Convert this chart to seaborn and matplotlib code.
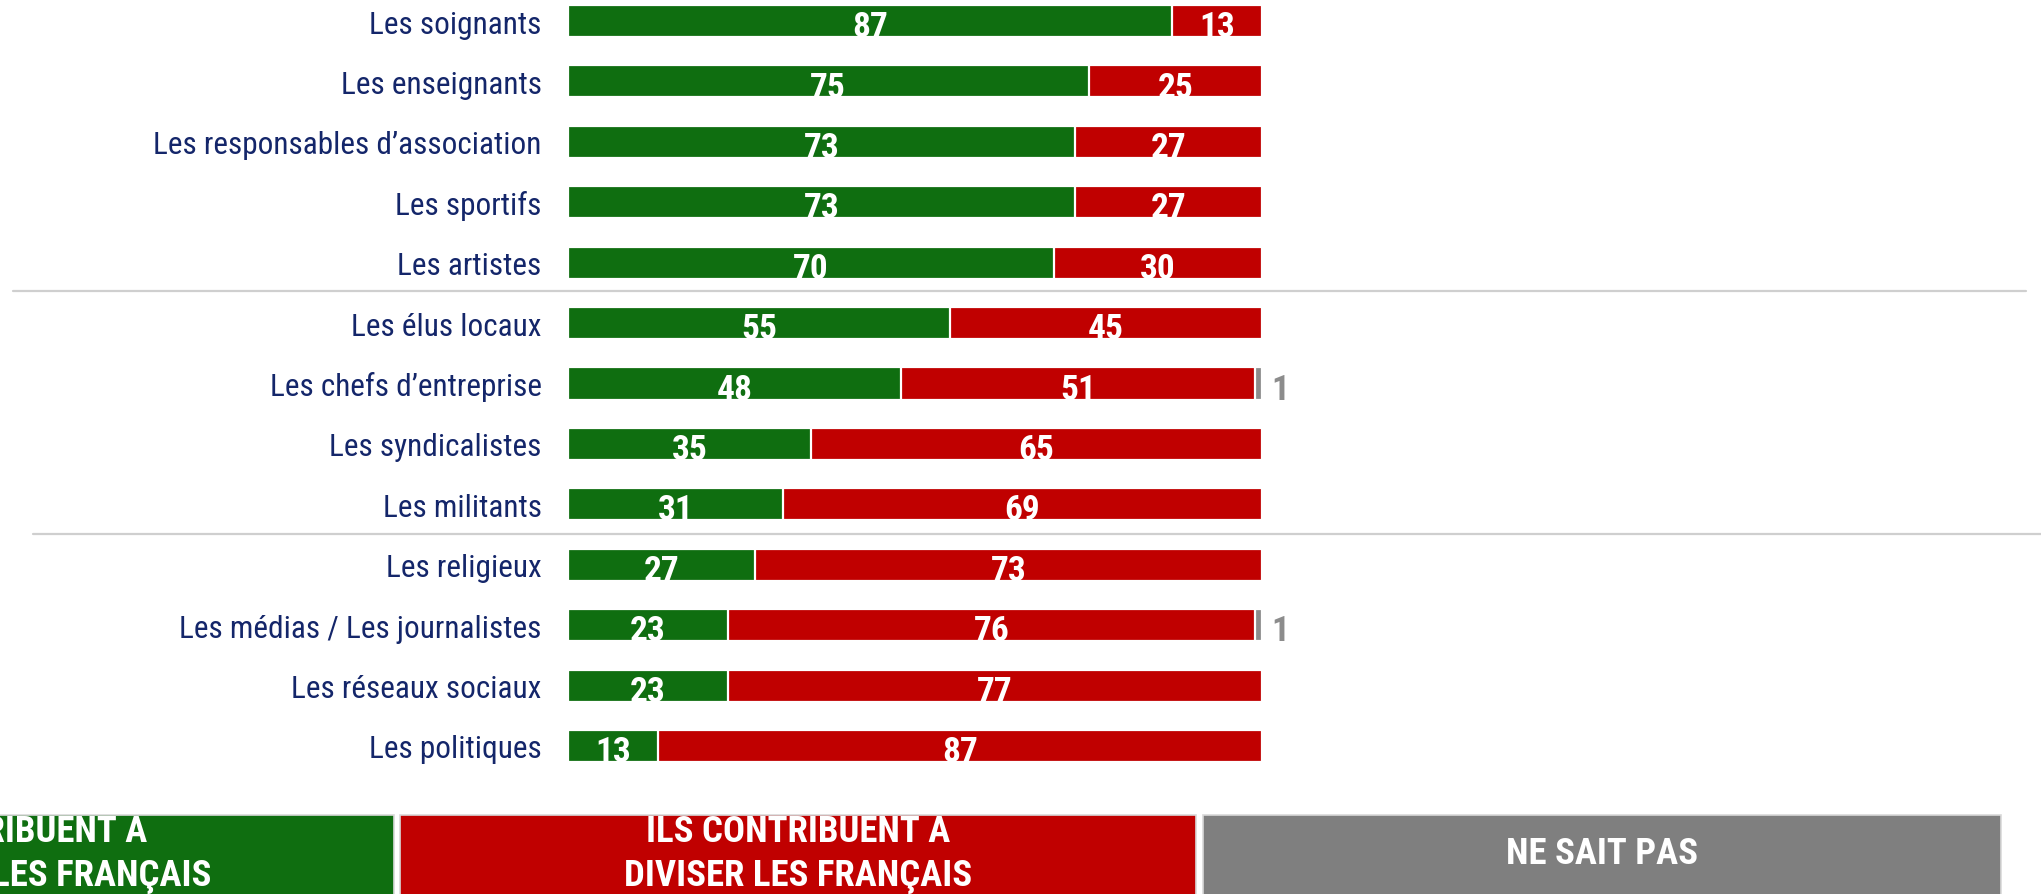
import matplotlib
matplotlib.use("Agg")
import matplotlib.pyplot as plt
import seaborn as sns
import pandas as pd
from matplotlib import font_manager as fm
from matplotlib.patches import Rectangle
from matplotlib.lines import Line2D

# ---- data ----
categories = [
    "Les soignants",
    "Les enseignants",
    "Les responsables d\u2019association",
    "Les sportifs",
    "Les artistes",
    "Les \u00e9lus locaux",
    "Les chefs d\u2019entreprise",
    "Les syndicalistes",
    "Les militants",
    "Les religieux",
    "Les m\u00e9dias / Les journalistes",
    "Les r\u00e9seaux sociaux",
    "Les politiques",
]
rassembler = [87, 75, 73, 73, 70, 55, 48, 35, 31, 27, 23, 23, 13]
diviser = [13, 25, 27, 27, 30, 45, 51, 65, 69, 73, 76, 77, 87]
ne_sait_pas = [0, 0, 0, 0, 0, 0, 1, 0, 0, 0, 1, 0, 0]

legend_labels = [
    "ILS CONTRIBUENT \u00c0\nRASSEMBLER LES FRAN\u00c7AIS",
    "ILS CONTRIBUENT \u00c0\nDIVISER LES FRAN\u00c7AIS",
    "NE SAIT PAS",
]

GREEN = "#0f6e10"
RED = "#c00000"
GREY = "#7f7f7f"
NAVY = "#14266a"


def pick_font():
    fonts = fm.fontManager.ttflist
    names = {f.name for f in fonts}
    for n in ["Roboto Condensed", "Liberation Sans Narrow", "Open Sans Condensed", "Noto Sans Condensed"]:
        if n in names:
            return n, "normal"
    for fam in ["Roboto", "Noto Sans", "DejaVu Sans", "Open Sans", "Liberation Sans"]:
        if any(f.name == fam and "condensed" in str(f.stretch) for f in fonts):
            return fam, "condensed"
    return "Roboto", "normal"


sns.set_style("white")
font_name, font_stretch = pick_font()
plt.rcParams["font.family"] = [font_name, "DejaVu Sans"]
plt.rcParams["font.stretch"] = font_stretch

df = pd.DataFrame({"cat": categories, "g": rassembler, "r": diviser, "d": ne_sait_pas})
df["gr"] = df["g"] + df["r"]
df["grd"] = df["gr"] + df["d"]

W, H = 2041, 895
fig = plt.figure(figsize=(W / 100, H / 100), dpi=100)
ax = fig.add_axes([568 / W, (H - 777.2) / H, 694 / W, 785.4 / H])

# stacked bars drawn as layered cumulative bars
bar_kw = dict(orient="h", width=0.53, saturation=1, edgecolor="white", linewidth=1.6, ax=ax)
sns.barplot(data=df, x="grd", y="cat", color="#8c8c8c", **bar_kw)
sns.barplot(data=df, x="gr", y="cat", color=RED, **bar_kw)
sns.barplot(data=df, x="g", y="cat", color=GREEN, **bar_kw)

ax.set_xlim(0, 100)
ax.set_ylim(12.5, -0.5)
ax.set_xlabel("")
ax.set_ylabel("")
ax.set_xticks([])
sns.despine(ax=ax, left=True, bottom=True)
ax.tick_params(axis="y", length=0, pad=19)
for lab in ax.get_yticklabels():
    lab.set_fontsize(22.5)
    lab.set_color(NAVY)

# value labels
for i, row in df.iterrows():
    ax.text(row["g"] / 2, i + 0.25, str(row["g"]), ha="center", va="baseline",
            color="white", fontsize=25.5, fontweight="bold")
    ax.text(row["g"] + row["r"] / 2, i + 0.25, str(row["r"]), ha="center", va="baseline",
            color="white", fontsize=25.5, fontweight="bold")
    if row["d"] > 0:
        ax.text(row["grd"] + 1.4, i + 0.25, str(row["d"]), ha="left", va="baseline",
                color="#8c8c8c", fontsize=25.5, fontweight="bold", clip_on=False)

# separators between groups
for y, x0, x1 in [(292, 13, 2026), (535, 33, 2041)]:
    fig.add_artist(Line2D([x0 / W, x1 / W], [1 - y / H, 1 - y / H],
                          color="#cfcfcf", linewidth=1.6))

# legend boxes at the bottom
boxes = [(-403, 394, GREEN), (400, 1196, RED), (1203, 2001, GREY)]
for (x0, x1, col), lab in zip(boxes, legend_labels):
    fig.add_artist(Rectangle((x0 / W, -0.05), (x1 - x0) / W, 1 - 816 / H + 0.05,
                             transform=fig.transFigure, facecolor=col,
                             edgecolor="#d9d9d9", linewidth=1.2, clip_on=False))
    fig.text((x0 + x1) / 2 / W, 1 - 854 / H, lab, ha="center", va="center",
             color="white", fontsize=26.5, fontweight="bold", linespacing=1.3)

fig.savefig("out.png", dpi=100)
